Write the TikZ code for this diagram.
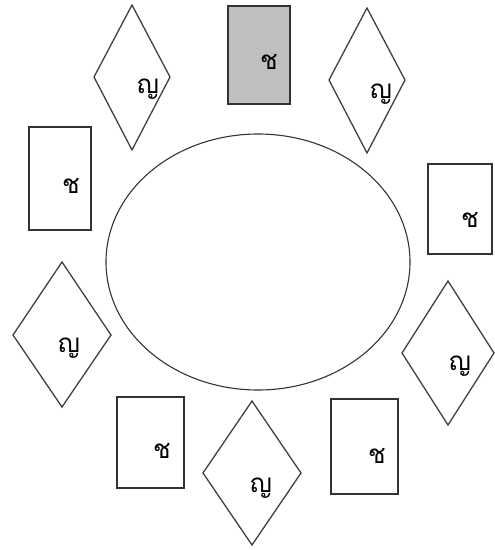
\documentclass[tikz,border=0pt]{standalone}
\usepackage{fontspec}
\newfontfamily\thaifont[Script=Thai]{Loma}
\begin{document}
\begin{tikzpicture}[x=1pt,y=-1pt,
  seat/.style={draw=black!80,line width=1.6pt},
  dia/.style={draw=black!75,line width=1.3pt},
  lbl/.style={font=\thaifont\fontsize{26}{26}\selectfont,inner sep=0pt,anchor=center}]
\useasboundingbox (0,0) rectangle (495,550);
% table
\draw[line width=1.1pt,draw=black!80] (258,262) ellipse [x radius=152, y radius=128];
% rectangles (ช)
\draw[seat,fill=black!25] (228,6) rectangle (290,104);
\node[lbl] (t1) at (269,62) {ช};
\draw[seat] (29,127) rectangle (91,230);
\node[lbl] (t2) at (71,186) {ช};
\draw[seat] (428,164) rectangle (492,254);
\node[lbl] (t3) at (470,220) {ช};
\draw[seat] (117,397) rectangle (184,488);
\node[lbl] (t4) at (162,451) {ช};
\draw[seat] (331,399) rectangle (398,494);
\node[lbl] (t5) at (377,456) {ช};
% diamonds (ญ)
\draw[dia] (132,5) -- (170,77) -- (132,150) -- (94,77) -- cycle;
\node[lbl] (d1) at (148,89) {ญ};
\draw[dia] (367,8) -- (405,80) -- (367,153) -- (329,80) -- cycle;
\node[lbl] (d2) at (381,94) {ญ};
\draw[dia] (62,262) -- (111,335) -- (62,407) -- (13,335) -- cycle;
\node[lbl] (d3) at (69,348) {ญ};
\draw[dia] (448,281) -- (494,353) -- (448,425) -- (402,353) -- cycle;
\node[lbl] (d4) at (460,366) {ญ};
\draw[dia] (252,401) -- (301,473) -- (252,545) -- (203,473) -- cycle;
\node[lbl] (d5) at (261,488) {ญ};
\end{tikzpicture}
\end{document}
